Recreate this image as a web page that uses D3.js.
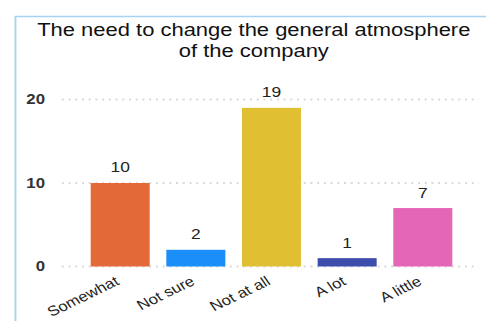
<!DOCTYPE html>
<html lang="en">
<head>
    <meta charset="UTF-8">
    <title>atmosphere</title>
    <script src="https://cdn.jsdelivr.net/npm/d3@7"></script>
    <style>
        body{ margin:0; background:#fff; }
        svg{ display:block; font-family:"Liberation Sans", Arial, sans-serif; }
    </style>
</head>
<body>
</body>
<script type="text/javascript">

    let categories = ["Somewhat", "Not sure", "Not at all", "A lot", "A little"];
    let values = [10, 2, 19, 1, 7];
    let colors = ["#e36a38", "#1b8ef8", "#e0bf33", "#3d4dab", "#e367b6"];
    let yTicks = [0, 10, 20];
    let titleLines = ["The need to change the general atmosphere", "of the company"];

    let width = 486;
    let height = 321;
    // the picture is a bit wider than the chart was drawn, so stretch it
    let stretch = 1.2;

    let svg = d3.select("body")
        .append("svg")
        .attr("width", width)
        .attr("height", height);

    let g = svg.append("g")
        .attr("transform", `scale(${stretch},1)`);

    // panel frame (cut off at right and bottom)
    g.append("rect")
        .attr("x", 12.9)
        .attr("y", 16.5)
        .attr("width", 420)
        .attr("height", 400)
        .attr("fill", "none")
        .attr("stroke", "#a6d3f2")
        .attr("stroke-width", 1.5);

    g.append("text")
        .attr("text-anchor", "middle")
        .style("font-size", "18.3px")
        .attr("fill", "#111")
        .selectAll("tspan")
        .data(titleLines)
        .join("tspan")
        .attr("x", 211.5)
        .attr("y", (d, i) => 36.5 + i * 20.5)
        .text(d => d);

    let x = d3.scaleBand()
        .domain(categories)
        .range([53.5, 399])
        .paddingInner(0.22)
        .paddingOuter(0.35);

    let y = d3.scaleLinear()
        .domain([0, 20])
        .range([266.5, 99.5]);

    // dotted grid
    g.append("g")
        .selectAll("line")
        .data(yTicks)
        .join("line")
        .attr("x1", 51.5)
        .attr("x2", 399)
        .attr("y1", d => y(d))
        .attr("y2", d => y(d))
        .attr("stroke", "#dadada")
        .attr("stroke-width", 2)
        .attr("stroke-dasharray", "1.7,3.9");

    let yAxis = d3.axisLeft(y)
        .tickValues(yTicks)
        .tickSize(0)
        .tickPadding(0);
    let yAxisGroup = g.append("g")
        .attr("transform", "translate(37.5,0)");
    yAxis(yAxisGroup);
    yAxisGroup.select(".domain").remove();
    yAxisGroup.selectAll("text")
        .attr("font-family", null)
        .style("font-size", "14px")
        .style("font-weight", "bold")
        .attr("fill", "#333");

    g.append("g")
        .selectAll("rect")
        .data(values)
        .join("rect")
        .attr("x", (d, i) => x(categories[i]))
        .attr("y", d => y(d))
        .attr("width", x.bandwidth())
        .attr("height", d => y(0) - y(d))
        .attr("fill", (d, i) => colors[i]);

    g.append("g")
        .selectAll("text")
        .data(values)
        .join("text")
        .attr("x", (d, i) => x(categories[i]) + x.bandwidth() / 2)
        .attr("y", d => y(d) - 10.5)
        .attr("text-anchor", "middle")
        .style("font-size", "14.5px")
        .attr("fill", "#222")
        .text(d => d);

    let xAxis = d3.axisBottom(x)
        .tickSize(0)
        .tickPadding(0);
    let xAxisGroup = g.append("g")
        .attr("transform", "translate(0,284)");
    xAxis(xAxisGroup);
    xAxisGroup.select(".domain").remove();
    xAxisGroup.selectAll("text")
        .attr("font-family", null)
        .style("font-size", "14px")
        .attr("fill", "#222")
        .attr("text-anchor", "end")
        .attr("y", 0)
        .attr("dy", 0)
        .attr("transform", "rotate(-30)");

</script>
</html>
